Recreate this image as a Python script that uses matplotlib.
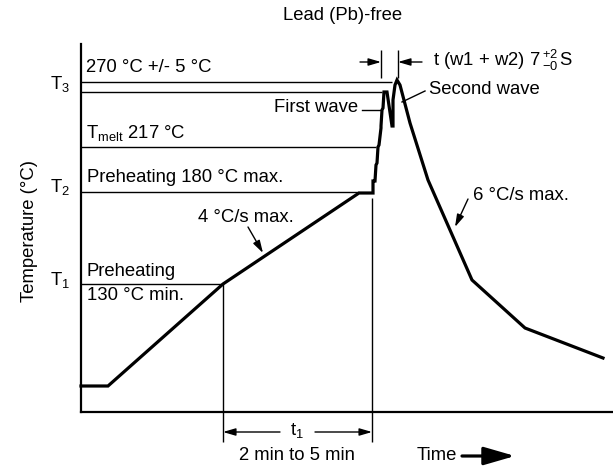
import matplotlib
matplotlib.use("Agg")
import matplotlib.pyplot as plt

plt.rcParams['font.family'] = ['Liberation Sans', 'DejaVu Sans']
plt.rcParams['mathtext.fontset'] = 'custom'
plt.rcParams['mathtext.rm'] = 'Liberation Sans'
plt.rcParams['mathtext.it'] = 'Liberation Sans:italic'
FS = 13.3

# schematic profile (arbitrary time / temperature units)
profile_t = [0, 27, 142, 278, 292, 292, 294, 295, 296, 297, 298, 300, 300, 301, 302,
             303, 306, 311, 312, 312, 314, 316, 319, 329, 347, 391, 444, 522]
profile_T = [26, 26, 128, 219, 219, 231, 231, 247, 249, 265, 267, 284, 286, 302, 304,
             320, 320, 286, 286, 312, 327, 332, 327, 289, 232, 132, 84, 54]

# reference levels and where their lines end
level_T3 = 330
level_T3_low = 320
level_melt = 265
level_T2 = 220
level_T1 = 128
end_T3, end_T3_low, end_melt, end_T2, end_T1 = 311, 301, 295, 278, 142
t1_start, t1_end = 142, 291

fig = plt.figure(figsize=(6.13, 4.66), dpi=100)
ax = fig.add_axes([81/613, 54/466, 532/613, 368/466])
ax.set_xlim(0, 532)
ax.set_ylim(0, 368)
for s in ['top', 'right']:
    ax.spines[s].set_visible(False)
for s in ['left', 'bottom']:
    ax.spines[s].set_linewidth(1.6)
ax.set_xticks([])
ax.set_yticks([])

lw_thin = 1.0
ax.hlines([level_T3, level_T3_low, level_melt, level_T2, level_T1], 0,
          [end_T3, end_T3_low, end_melt, end_T2, end_T1], color='black', lw=lw_thin)
ax.vlines(t1_start, -30, level_T1, color='black', lw=lw_thin, clip_on=False)
ax.vlines(t1_end, -30, 214, color='black', lw=lw_thin, clip_on=False)

ax.plot(profile_t, profile_T, color='black', lw=2.3, solid_joinstyle='miter', clip_on=False)

kw = dict(fontsize=FS, color='black')
ax.text(5, 344, '270 °C +/- 5 °C', va='center', ha='left', **kw)
ax.text(5, 279, r'$\mathregular{T_{melt}}$ 217 °C', va='center', ha='left', **kw)
ax.text(6, 235, 'Preheating 180 °C max.', va='center', ha='left', **kw)
ax.text(6, 140, 'Preheating', va='center', ha='left', **kw)
ax.text(6, 117, '130 °C min.', va='center', ha='left', **kw)
ax.text(-11, 328, r'$\mathregular{T_3}$', va='center', ha='right', **kw)
ax.text(-11, 225, r'$\mathregular{T_2}$', va='center', ha='right', **kw)
ax.text(-11, 132, r'$\mathregular{T_1}$', va='center', ha='right', **kw)

ax.text(-51, 181, 'Temperature (°C)', rotation=90, va='center', ha='center', **kw)
ax.text(262, 397, 'Lead (Pb)-free', va='center', ha='center', **kw)

# First wave
ax.text(277, 304, 'First wave', va='center', ha='right', **kw)
ax.plot([281, 299], [302, 302], color='black', lw=lw_thin)
# Second wave
ax.text(348, 323, 'Second wave', va='center', ha='left', **kw)
ax.plot([344, 321], [321, 310], color='black', lw=lw_thin)

# t (w1+w2)
ax.text(352, 352, r't (w1 + w2) 7$\mathregular{\,^{+2}_{-0}\,}$S', va='center', ha='left', **kw)
ax.vlines([300, 317], 334, 362, color='black', lw=lw_thin, clip_on=False)
arr = dict(arrowstyle='-|>,head_length=0.75,head_width=0.22', color='black', lw=1.0,
           shrinkA=0, shrinkB=0)
ax.annotate('', xy=(300, 350), xytext=(279, 350), arrowprops=arr, annotation_clip=False)
ax.annotate('', xy=(317, 350), xytext=(341, 350), arrowprops=arr, annotation_clip=False)

# slopes
ax.text(117, 194, '4 °C/s max.', va='center', ha='left', **kw)
ax.annotate('', xy=(182, 159), xytext=(167, 185), arrowprops=arr)
ax.text(392, 217, '6 °C/s max.', va='center', ha='left', **kw)
ax.annotate('', xy=(374, 185), xytext=(387, 213), arrowprops=arr)

# t1 bracket
ax.annotate('', xy=(t1_start, -20), xytext=(199, -20), arrowprops=arr, annotation_clip=False)
ax.annotate('', xy=(t1_end, -20), xytext=(234, -20), arrowprops=arr, annotation_clip=False)
ax.text(216, -18, r'$\mathregular{t_1}$', va='center', ha='center', **kw)
ax.text(216, -43, '2 min to 5 min', va='center', ha='center', **kw)

ax.text(336, -43, 'Time', va='center', ha='left', **kw)
ax.annotate('', xy=(434, -44), xytext=(381, -44),
            arrowprops=dict(arrowstyle='-|>,head_length=1.9,head_width=0.55', color='black',
                            lw=2.3, shrinkA=0, shrinkB=0), annotation_clip=False)

fig.savefig('out.png', dpi=100)
